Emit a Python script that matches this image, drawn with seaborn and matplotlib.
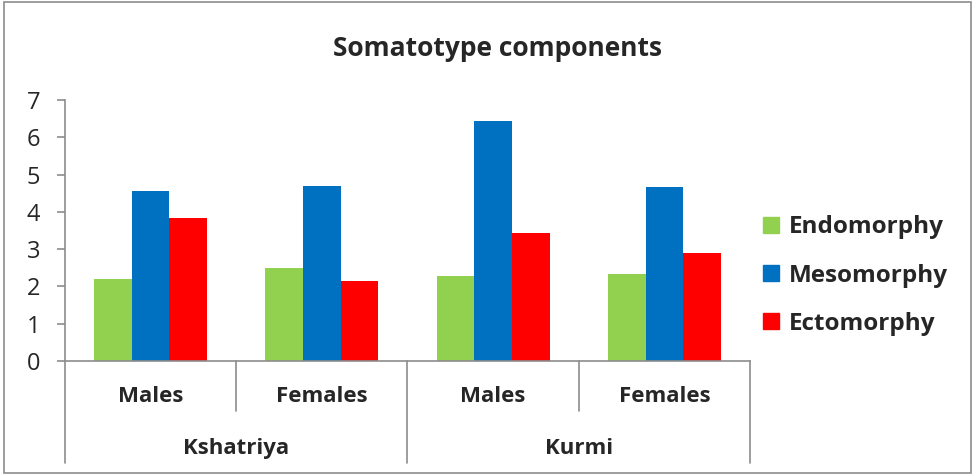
import pandas as pd
import seaborn as sns
import matplotlib.pyplot as plt
from matplotlib.patches import Rectangle

sns.set_style("ticks")
plt.rcParams['font.family'] = ['Open Sans', 'DejaVu Sans']

# data
groups = ["Kshatriya", "Kshatriya", "Kurmi", "Kurmi"]
sexes = ["Males", "Females", "Males", "Females"]
components = ["Endomorphy", "Mesomorphy", "Ectomorphy"]
endomorphy = [2.21, 2.49, 2.28, 2.33]
mesomorphy = [4.55, 4.69, 6.45, 4.68]
ectomorphy = [3.84, 2.15, 3.44, 2.90]
colors = ["#92D050", "#0070C0", "#FF0000"]

keys = [g + " " + s for g, s in zip(groups, sexes)]
df = pd.DataFrame({"key": keys * 3,
                   "component": [c for c in components for _ in keys],
                   "value": endomorphy + mesomorphy + ectomorphy})

fig = plt.figure(figsize=(9.75, 4.75), dpi=100)
ax = fig.add_axes([65 / 975, 1 - 361 / 475, (750 - 65) / 975, 261 / 475])

sns.barplot(data=df, x="key", y="value", hue="component", order=keys,
            hue_order=components, palette=colors, width=0.66, saturation=1,
            linewidth=0, ax=ax, legend=False)

ax.set_ylim(0, 7)
ax.set_xlim(-0.5, 3.5)
ax.set_yticks(range(8))
ax.tick_params(axis="y", labelsize=17, length=6, color="#8c8c8c", width=1.2, pad=12)
ax.tick_params(axis="x", length=0, labelsize=16, pad=18)
ax.set_xticks(range(4))
ax.set_xticklabels(sexes, fontweight="bold")
ax.set_xlabel("")
ax.set_ylabel("")
sns.despine(ax=ax)
for side in ["left", "bottom"]:
    ax.spines[side].set_color("#8c8c8c")
    ax.spines[side].set_linewidth(1.2)

# two-level category axis separators
trans = ax.get_xaxis_transform()
for x, depth in [(-0.5, -0.39), (0.5, -0.19), (1.5, -0.39), (2.5, -0.19), (3.5, -0.39)]:
    ax.plot([x, x], [0, depth], transform=trans, color="#8c8c8c", lw=1.2, clip_on=False)
for x, g in [(0.5, "Kshatriya"), (2.5, "Kurmi")]:
    ax.text(x, -0.335, g, transform=trans, ha="center", va="center",
            fontsize=16, fontweight="bold")

fig.text(0.51, 0.897, "Somatotype components", ha="center", va="center",
         fontsize=19, fontweight="bold")

handles = [Rectangle((0, 0), 1, 1, color=c) for c in colors]
leg = fig.legend(handles, components, loc="center left", bbox_to_anchor=(0.76, 0.42),
                 frameon=False, handlelength=0.65, handleheight=0.65, handletextpad=0.4,
                 labelspacing=1.0, prop={"size": 17.5, "weight": "bold"})

fig.patches.append(Rectangle((0.004, 0.004), 0.992, 0.992, transform=fig.transFigure,
                             fill=False, edgecolor="#8c8c8c", lw=1.2))

fig.savefig("out.png", dpi=100)
